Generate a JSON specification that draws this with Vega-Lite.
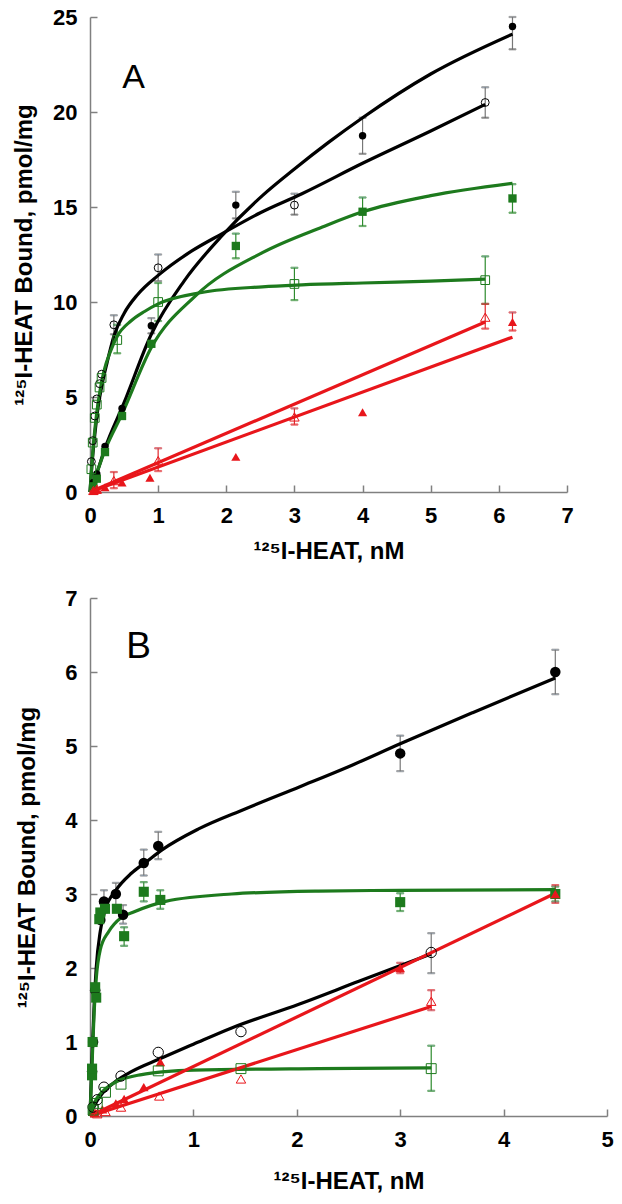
{
  "$schema": "https://vega.github.io/schema/vega-lite/v6.json",
  "background": "white",
  "padding": {"left": 12, "top": 6, "right": 5, "bottom": 5},
  "spacing": 24,
  "config": {
    "view": {"stroke": null},
    "font": "Liberation Sans",
    "axis": {
      "grid": false, "labelFlush": false,
      "domainColor": "#808080", "domainWidth": 1.5,
      "tickColor": "#808080", "tickWidth": 1.5, "tickSize": -7,
      "labelFont": "Liberation Sans", "labelFontSize": 22, "labelFontWeight": "bold", "labelColor": "#000000", "labelPadding": 20,
      "titleFont": "Liberation Sans", "titleFontSize": 24, "titleFontWeight": "bold", "titleColor": "#000000"
    }
  },
  "resolve": {"scale": {"size": "independent"}},
  "datasets": {
    "ptsA": [
      {"s":"cf","x":0.05,"y":0.5},{"s":"cf","x":0.1,"y":0.95},{"s":"cf","x":0.22,"y":2.4},{"s":"cf","x":0.47,"y":4.4},
      {"s":"cf","x":0.9,"y":8.75,"lo":8.35,"hi":9.15},{"s":"cf","x":2.14,"y":15.1,"lo":14.4,"hi":15.8},
      {"s":"cf","x":4.0,"y":18.75,"lo":17.8,"hi":19.7},{"s":"cf","x":6.2,"y":24.5,"lo":23.3,"hi":25.0},
      {"s":"co","x":0.02,"y":1.6},{"s":"co","x":0.04,"y":2.7},{"s":"co","x":0.07,"y":4.0},{"s":"co","x":0.1,"y":4.9},
      {"s":"co","x":0.14,"y":5.7},{"s":"co","x":0.17,"y":6.2},{"s":"co","x":0.35,"y":8.8,"lo":8.3,"hi":9.3},
      {"s":"co","x":1.0,"y":11.8,"lo":11.1,"hi":12.5},{"s":"co","x":3.0,"y":15.1,"lo":14.6,"hi":15.7},{"s":"co","x":5.8,"y":20.5,"lo":19.7,"hi":21.3},
      {"s":"sf","x":0.05,"y":0.3},{"s":"sf","x":0.1,"y":0.7},{"s":"sf","x":0.22,"y":2.1},{"s":"sf","x":0.47,"y":4.0},
      {"s":"sf","x":0.9,"y":7.8},{"s":"sf","x":2.14,"y":12.95,"lo":12.3,"hi":13.6},{"s":"sf","x":4.0,"y":14.75,"lo":14.0,"hi":15.5},
      {"s":"sf","x":6.2,"y":15.45,"lo":14.7,"hi":16.2},
      {"s":"so","x":0.02,"y":1.2},{"s":"so","x":0.04,"y":2.6},{"s":"so","x":0.07,"y":3.9},{"s":"so","x":0.1,"y":4.6},
      {"s":"so","x":0.14,"y":5.5},{"s":"so","x":0.17,"y":6.0},{"s":"so","x":0.4,"y":8.0,"lo":7.3,"hi":8.8},
      {"s":"so","x":1.0,"y":10.0,"lo":9.0,"hi":11.0},{"s":"so","x":3.0,"y":10.95,"lo":10.1,"hi":11.8},{"s":"so","x":5.8,"y":11.15,"lo":9.9,"hi":12.4},
      {"s":"tf","x":0.05,"y":0.05},{"s":"tf","x":0.1,"y":0.12},{"s":"tf","x":0.22,"y":0.25},{"s":"tf","x":0.47,"y":0.5},
      {"s":"tf","x":0.88,"y":0.75},{"s":"tf","x":2.14,"y":1.85},{"s":"tf","x":4.0,"y":4.2},{"s":"tf","x":6.2,"y":8.95,"lo":8.5,"hi":9.45},
      {"s":"to","x":0.05,"y":0.08},{"s":"to","x":0.1,"y":0.15},{"s":"to","x":0.35,"y":0.6,"lo":0.2,"hi":1.05},
      {"s":"to","x":1.0,"y":1.65,"lo":1.1,"hi":2.3},{"s":"to","x":3.0,"y":3.95,"lo":3.55,"hi":4.4},{"s":"to","x":5.8,"y":9.2,"lo":8.6,"hi":9.9}
    ],
    "crvA": [
      {"s":"cf","x":0,"y":0},{"s":"cf","x":0.1,"y":1.0},{"s":"cf","x":0.22,"y":2.3},{"s":"cf","x":0.5,"y":4.7},{"s":"cf","x":0.9,"y":8.3},
      {"s":"cf","x":1.38,"y":11.1},{"s":"cf","x":1.94,"y":13.5},{"s":"cf","x":2.53,"y":15.6},{"s":"cf","x":3.0,"y":17.0},
      {"s":"cf","x":3.5,"y":18.4},{"s":"cf","x":4.0,"y":19.7},{"s":"cf","x":5.0,"y":22.0},{"s":"cf","x":6.2,"y":24.1},
      {"s":"co","x":0,"y":0},{"s":"co","x":0.03,"y":1.5},{"s":"co","x":0.07,"y":3.0},{"s":"co","x":0.12,"y":4.5},{"s":"co","x":0.18,"y":5.7},
      {"s":"co","x":0.25,"y":6.8},{"s":"co","x":0.35,"y":8.2},{"s":"co","x":0.5,"y":9.4},{"s":"co","x":0.7,"y":10.4},{"s":"co","x":1.0,"y":11.4},
      {"s":"co","x":1.5,"y":12.7},{"s":"co","x":1.94,"y":13.6},{"s":"co","x":2.5,"y":14.7},{"s":"co","x":3.11,"y":15.7},{"s":"co","x":4.0,"y":17.3},
      {"s":"co","x":5.0,"y":19.0},{"s":"co","x":5.8,"y":20.4},
      {"s":"sf","x":0,"y":0},{"s":"sf","x":0.1,"y":1.0},{"s":"sf","x":0.22,"y":2.2},{"s":"sf","x":0.47,"y":4.1},{"s":"sf","x":0.9,"y":7.6},
      {"s":"sf","x":1.54,"y":10.3},{"s":"sf","x":2.53,"y":12.6},{"s":"sf","x":3.41,"y":13.95},{"s":"sf","x":4.0,"y":14.75},
      {"s":"sf","x":5.0,"y":15.6},{"s":"sf","x":6.2,"y":16.25},
      {"s":"so","x":0,"y":0},{"s":"so","x":0.02,"y":1.1},{"s":"so","x":0.05,"y":2.5},{"s":"so","x":0.1,"y":4.2},{"s":"so","x":0.15,"y":5.4},
      {"s":"so","x":0.2,"y":6.3},{"s":"so","x":0.3,"y":7.4},{"s":"so","x":0.4,"y":8.2},{"s":"so","x":0.6,"y":9.0},{"s":"so","x":0.8,"y":9.5},
      {"s":"so","x":1.0,"y":9.9},{"s":"so","x":1.64,"y":10.5},{"s":"so","x":2.53,"y":10.8},{"s":"so","x":3.11,"y":10.9},{"s":"so","x":4.0,"y":11.0},
      {"s":"so","x":5.0,"y":11.1},{"s":"so","x":5.8,"y":11.2},
      {"s":"tf","x":0,"y":0},{"s":"tf","x":6.2,"y":8.15},
      {"s":"to","x":0,"y":0},{"s":"to","x":5.8,"y":8.95}
    ],
    "ptsB": [
      {"s":"cf","x":0.02,"y":0.6},{"s":"cf","x":0.03,"y":1.0},{"s":"cf","x":0.05,"y":1.7},{"s":"cf","x":0.1,"y":2.65},
      {"s":"cf","x":0.135,"y":2.9,"lo":2.75,"hi":3.05},{"s":"cf","x":0.25,"y":3.0,"lo":2.85,"hi":3.15},{"s":"cf","x":0.32,"y":2.72,"lo":2.6,"hi":2.85},
      {"s":"cf","x":0.52,"y":3.42,"lo":3.25,"hi":3.6},{"s":"cf","x":0.66,"y":3.65,"lo":3.47,"hi":3.84},{"s":"cf","x":3.0,"y":4.9,"lo":4.66,"hi":5.14},
      {"s":"cf","x":4.5,"y":6.0,"lo":5.7,"hi":6.3},
      {"s":"co","x":0.03,"y":0.12},{"s":"co","x":0.07,"y":0.22},{"s":"co","x":0.135,"y":0.39},{"s":"co","x":0.3,"y":0.54},
      {"s":"co","x":0.66,"y":0.86},{"s":"co","x":1.46,"y":1.14},{"s":"co","x":3.3,"y":2.21,"lo":1.93,"hi":2.47},
      {"s":"sf","x":0.02,"y":0.55},{"s":"sf","x":0.02,"y":0.64},{"s":"sf","x":0.025,"y":1.0},{"s":"sf","x":0.05,"y":1.74},
      {"s":"sf","x":0.06,"y":1.6},{"s":"sf","x":0.09,"y":2.66},{"s":"sf","x":0.1,"y":2.75},{"s":"sf","x":0.145,"y":2.8},{"s":"sf","x":0.26,"y":2.8},
      {"s":"sf","x":0.33,"y":2.43,"lo":2.3,"hi":2.55},{"s":"sf","x":0.52,"y":3.03,"lo":2.9,"hi":3.16},{"s":"sf","x":0.68,"y":2.92,"lo":2.8,"hi":3.05},
      {"s":"sf","x":3.0,"y":2.89,"lo":2.77,"hi":3.01},{"s":"sf","x":4.5,"y":3.0,"lo":2.9,"hi":3.1},
      {"s":"so","x":0.03,"y":0.08},{"s":"so","x":0.07,"y":0.17},{"s":"so","x":0.15,"y":0.32},{"s":"so","x":0.3,"y":0.43},
      {"s":"so","x":0.66,"y":0.61},{"s":"so","x":1.46,"y":0.64},{"s":"so","x":3.3,"y":0.64,"lo":0.34,"hi":0.95},
      {"s":"tf","x":0.05,"y":0.04},{"s":"tf","x":0.12,"y":0.09},{"s":"tf","x":0.25,"y":0.17},{"s":"tf","x":0.33,"y":0.23},
      {"s":"tf","x":0.52,"y":0.39},{"s":"tf","x":0.68,"y":0.73},{"s":"tf","x":3.0,"y":2.0,"lo":1.93,"hi":2.07},{"s":"tf","x":4.5,"y":3.0,"lo":2.88,"hi":3.12},
      {"s":"to","x":0.07,"y":0.03},{"s":"to","x":0.15,"y":0.06},{"s":"to","x":0.3,"y":0.12},{"s":"to","x":0.67,"y":0.27},
      {"s":"to","x":1.46,"y":0.5},{"s":"to","x":3.3,"y":1.55,"lo":1.43,"hi":1.7}
    ],
    "crvB": [
      {"s":"cf","x":0,"y":0},{"s":"cf","x":0.02,"y":0.8},{"s":"cf","x":0.04,"y":1.5},{"s":"cf","x":0.06,"y":2.0},{"s":"cf","x":0.1,"y":2.5},
      {"s":"cf","x":0.15,"y":2.8},{"s":"cf","x":0.25,"y":3.05},{"s":"cf","x":0.4,"y":3.28},{"s":"cf","x":0.54,"y":3.43},{"s":"cf","x":0.7,"y":3.6},
      {"s":"cf","x":1.05,"y":3.88},{"s":"cf","x":1.5,"y":4.15},{"s":"cf","x":2.03,"y":4.45},{"s":"cf","x":2.5,"y":4.72},{"s":"cf","x":3.0,"y":5.03},
      {"s":"cf","x":3.7,"y":5.45},{"s":"cf","x":4.5,"y":5.92},
      {"s":"co","x":0,"y":0},{"s":"co","x":0.05,"y":0.16},{"s":"co","x":0.1,"y":0.27},{"s":"co","x":0.25,"y":0.47},{"s":"co","x":0.4,"y":0.6},
      {"s":"co","x":0.67,"y":0.77},{"s":"co","x":1.0,"y":0.97},{"s":"co","x":1.37,"y":1.19},{"s":"co","x":2.02,"y":1.51},{"s":"co","x":2.6,"y":1.82},
      {"s":"co","x":3.3,"y":2.19},
      {"s":"sf","x":0,"y":0},{"s":"sf","x":0.02,"y":0.7},{"s":"sf","x":0.04,"y":1.4},{"s":"sf","x":0.06,"y":1.85},{"s":"sf","x":0.1,"y":2.25},
      {"s":"sf","x":0.18,"y":2.49},{"s":"sf","x":0.3,"y":2.68},{"s":"sf","x":0.41,"y":2.75},{"s":"sf","x":0.73,"y":2.9},{"s":"sf","x":1.37,"y":3.0},
      {"s":"sf","x":2.21,"y":3.04},{"s":"sf","x":3.0,"y":3.05},{"s":"sf","x":4.5,"y":3.06},
      {"s":"so","x":0,"y":0},{"s":"so","x":0.05,"y":0.2},{"s":"so","x":0.1,"y":0.3},{"s":"so","x":0.2,"y":0.42},{"s":"so","x":0.28,"y":0.48},
      {"s":"so","x":0.5,"y":0.56},{"s":"so","x":0.73,"y":0.6},{"s":"so","x":1.0,"y":0.62},{"s":"so","x":2.21,"y":0.64},{"s":"so","x":3.3,"y":0.65},
      {"s":"tf","x":0,"y":0},{"s":"tf","x":4.5,"y":3.01},
      {"s":"to","x":0,"y":0},{"s":"to","x":3.3,"y":1.48}
    ]
  },
  "vconcat": [
    {
      "width": 477, "height": 475,
      "encoding": {
        "x": {"field": "x", "type": "quantitative", "scale": {"domain": [0, 7], "nice": false},
              "axis": {"title": "¹²⁵I-HEAT, nM", "values": [0,1,2,3,4,5,6,7], "titlePadding": 13}},
        "y": {"field": "y", "type": "quantitative", "scale": {"domain": [0, 25], "nice": false},
              "axis": {"title": "¹²⁵I-HEAT Bound, pmol/mg", "values": [0,5,10,15,20,25], "titlePadding": 16}}
      },
      "layer": [
        {"data": {"name": "ptsA"}, "transform": [{"filter": "isValid(datum.lo)"}],
         "mark": {"type": "rule", "strokeWidth": 1.2},
         "encoding": {"y": {"field": "lo", "type": "quantitative"}, "y2": {"field": "hi"},
           "stroke": {"field": "s", "type": "nominal", "legend": null,
             "scale": {"domain": ["cf","co","sf","so","tf","to"], "range": ["#777777","#777777","#2e8b2e","#2e8b2e","#e0282d","#e0282d"]}}}},
        {"data": {"name": "ptsA"}, "transform": [{"filter": "isValid(datum.lo)"}],
         "mark": {"type": "tick", "orient": "horizontal", "size": 7, "thickness": 1.2},
         "encoding": {"y": {"field": "lo", "type": "quantitative"},
           "color": {"field": "s", "type": "nominal", "legend": null,
             "scale": {"domain": ["cf","co","sf","so","tf","to"], "range": ["#000000","#000000","#1d7a1d","#1d7a1d","#e8161b","#e8161b"]}},
           "stroke": {"field": "s", "type": "nominal", "legend": null}}},
        {"data": {"name": "ptsA"}, "transform": [{"filter": "isValid(datum.lo)"}],
         "mark": {"type": "tick", "orient": "horizontal", "size": 7, "thickness": 1.2},
         "encoding": {"y": {"field": "hi", "type": "quantitative"},
           "stroke": {"field": "s", "type": "nominal", "legend": null}}},
        {"data": {"name": "crvA"},
         "mark": {"type": "line", "interpolate": "monotone", "strokeWidth": 3.2},
         "encoding": {"color": {"field": "s", "type": "nominal", "legend": null}, "detail": {"field": "s"}}},
        {"data": {"name": "ptsA"}, "transform": [{"filter": "indexof(['cf','sf','tf'], datum.s) >= 0"}],
         "mark": {"type": "point", "filled": true, "opacity": 1},
         "encoding": {"color": {"field": "s", "type": "nominal", "legend": null},
           "shape": {"field": "s", "type": "nominal", "legend": null,
             "scale": {"domain": ["cf","co","sf","so","tf","to"], "range": ["circle","circle","square","square","triangle-up","triangle-up"]}},
           "size": {"field": "s", "type": "nominal", "legend": null,
             "scale": {"domain": ["cf","co","sf","so","tf","to"], "range": [55, 90, 50, 120, 50, 70]}}}},
        {"data": {"name": "ptsA"}, "transform": [{"filter": "indexof(['co','so','to'], datum.s) >= 0"}],
         "mark": {"type": "point", "filled": false, "strokeWidth": 1, "opacity": 1},
         "encoding": {"color": {"field": "s", "type": "nominal", "legend": null},
           "shape": {"field": "s", "type": "nominal", "legend": null},
           "size": {"field": "s", "type": "nominal", "legend": null}}},
        {"data": {"values": [{"lab": "A", "x": 0.64, "y": 21.8}]},
         "mark": {"type": "text", "font": "Liberation Sans", "fontSize": 34, "fontWeight": "normal", "color": "#000000", "baseline": "middle", "align": "center"},
         "encoding": {"text": {"field": "lab"}}}
      ]
    },
    {
      "width": 517, "height": 518,
      "encoding": {
        "x": {"field": "x", "type": "quantitative", "scale": {"domain": [0, 5], "nice": false},
              "axis": {"title": "¹²⁵I-HEAT, nM", "values": [0,1,2,3,4,5], "titlePadding": 19}},
        "y": {"field": "y", "type": "quantitative", "scale": {"domain": [0, 7], "nice": false},
              "axis": {"title": "¹²⁵I-HEAT Bound, pmol/mg", "values": [0,1,2,3,4,5,6,7], "titlePadding": 25}}
      },
      "layer": [
        {"data": {"name": "ptsB"}, "transform": [{"filter": "isValid(datum.lo)"}],
         "mark": {"type": "rule", "strokeWidth": 1.2},
         "encoding": {"y": {"field": "lo", "type": "quantitative"}, "y2": {"field": "hi"},
           "stroke": {"field": "s", "type": "nominal", "legend": null}}},
        {"data": {"name": "ptsB"}, "transform": [{"filter": "isValid(datum.lo)"}],
         "mark": {"type": "tick", "orient": "horizontal", "size": 7, "thickness": 1.2},
         "encoding": {"y": {"field": "lo", "type": "quantitative"},
           "stroke": {"field": "s", "type": "nominal", "legend": null}}},
        {"data": {"name": "ptsB"}, "transform": [{"filter": "isValid(datum.lo)"}],
         "mark": {"type": "tick", "orient": "horizontal", "size": 7, "thickness": 1.2},
         "encoding": {"y": {"field": "hi", "type": "quantitative"},
           "stroke": {"field": "s", "type": "nominal", "legend": null}}},
        {"data": {"name": "crvB"},
         "mark": {"type": "line", "interpolate": "monotone", "strokeWidth": 3.2},
         "encoding": {"color": {"field": "s", "type": "nominal", "legend": null}, "detail": {"field": "s"}}},
        {"data": {"name": "ptsB"}, "transform": [{"filter": "indexof(['cf','sf','tf'], datum.s) >= 0"}],
         "mark": {"type": "point", "filled": true, "opacity": 1},
         "encoding": {"color": {"field": "s", "type": "nominal", "legend": null},
           "shape": {"field": "s", "type": "nominal", "legend": null},
           "size": {"field": "s", "type": "nominal", "legend": null,
             "scale": {"domain": ["cf","co","sf","so","tf","to"], "range": [110, 90, 150, 120, 90, 90]}}}},
        {"data": {"name": "ptsB"}, "transform": [{"filter": "indexof(['co','so','to'], datum.s) >= 0"}],
         "mark": {"type": "point", "filled": false, "strokeWidth": 1, "opacity": 1},
         "encoding": {"color": {"field": "s", "type": "nominal", "legend": null},
           "shape": {"field": "s", "type": "nominal", "legend": null},
           "size": {"field": "s", "type": "nominal", "legend": null}}},
        {"data": {"values": [{"lab": "B", "x": 0.47, "y": 6.34}]},
         "mark": {"type": "text", "font": "Liberation Sans", "fontSize": 37, "fontWeight": "normal", "color": "#000000", "baseline": "middle", "align": "center"},
         "encoding": {"text": {"field": "lab"}}}
      ]
    }
  ]
}
